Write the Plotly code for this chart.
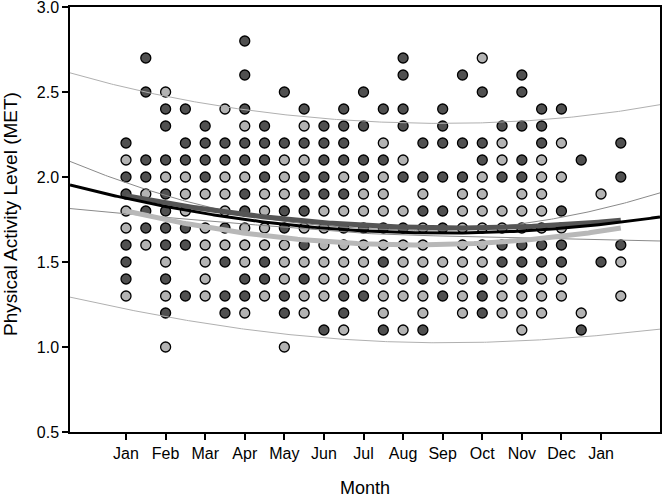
import numpy as np
import plotly.graph_objects as go

# x positions in months (0 = Jan, 12 = next Jan), half-month columns
positions = [0, 0.5, 1, 1.5, 2, 2.5, 3, 3.5, 4, 4.5, 5, 5.5, 6, 6.5, 7, 7.5, 8, 8.5,
             9, 9.5, 10, 10.5, 11, 11.5, 12, 12.5]

dark_values = [
    [2.2, 2.0, 1.9, 1.6, 1.5, 1.4],
    [2.7, 2.5, 2.1, 2.0, 1.8, 1.7],
    [2.4, 2.3, 2.1, 1.9, 1.8, 1.7, 1.6, 1.4, 1.2],
    [2.4, 2.2, 2.1, 1.7, 1.6, 1.3],
    [2.3, 2.2, 2.1, 2.0],
    [2.2, 2.1, 1.7, 1.5, 1.3, 1.2],
    [2.8, 2.6, 2.4, 2.2, 2.1, 1.9, 1.8, 1.4, 1.3],
    [2.3, 2.2, 2.1, 2.0, 1.5, 1.4],
    [2.5, 2.2, 1.8, 1.7, 1.3, 1.2],
    [2.4, 2.2, 2.0, 1.9, 1.8, 1.6, 1.4],
    [2.3, 2.2, 2.1, 2.0, 1.9, 1.1],
    [2.4, 2.3, 2.2, 2.1, 1.9, 1.7, 1.3, 1.2],
    [2.5, 2.3, 2.1, 2.0, 1.7, 1.3],
    [2.4, 2.1, 1.7, 1.5, 1.1],
    [2.7, 2.6, 2.4, 2.3, 2.0, 1.7],
    [2.2, 2.0, 1.8, 1.4, 1.1],
    [2.4, 2.3, 2.2, 2.0, 1.8, 1.7, 1.3],
    [2.6, 2.2, 2.0],
    [2.5, 2.2, 2.1, 1.4, 1.3, 1.2],
    [2.3, 2.0, 1.6, 1.5],
    [2.6, 2.5, 2.3, 2.1, 2.0, 1.6, 1.5, 1.4],
    [2.4, 2.3, 2.2, 1.6, 1.5],
    [2.4, 1.8, 1.6, 1.5],
    [2.1, 1.1],
    [1.5],
    [2.2, 2.0, 1.6],
]

light_values = [
    [2.1, 1.8, 1.7, 1.3],
    [1.9, 1.6],
    [2.5, 2.0, 1.5, 1.3, 1.0],
    [2.0, 1.9, 1.8],
    [1.9, 1.7, 1.6, 1.5, 1.4, 1.3],
    [2.4, 2.0, 1.9, 1.8, 1.6],
    [2.3, 2.0, 1.7, 1.6, 1.5, 1.2],
    [1.9, 1.8, 1.7, 1.6, 1.3],
    [2.1, 2.0, 1.9, 1.6, 1.5, 1.4, 1.0],
    [2.3, 2.1, 1.7, 1.5, 1.3, 1.2],
    [1.8, 1.7, 1.6, 1.5, 1.4, 1.3],
    [2.0, 1.8, 1.6, 1.5, 1.4, 1.1],
    [1.9, 1.8, 1.6, 1.5, 1.4],
    [2.2, 2.0, 1.9, 1.8, 1.6, 1.4, 1.3, 1.2],
    [2.1, 1.8, 1.6, 1.5, 1.4, 1.3, 1.1],
    [1.9, 1.7, 1.6, 1.5, 1.3, 1.2],
    [1.5, 1.4],
    [1.9, 1.8, 1.7, 1.6, 1.5, 1.4, 1.3, 1.2],
    [2.7, 2.0, 1.9, 1.8, 1.7, 1.6, 1.5],
    [2.2, 2.1, 1.8, 1.7, 1.4, 1.3, 1.2],
    [1.9, 1.8, 1.7, 1.3, 1.2, 1.1],
    [2.1, 2.0, 1.9, 1.8, 1.7, 1.4, 1.3, 1.2],
    [2.2, 2.0, 1.7, 1.4, 1.3],
    [1.2],
    [1.9],
    [1.5, 1.3],
]

tick_positions = [0, 1, 2, 3, 4, 5, 6, 7, 8, 9, 10, 11, 12]
tick_labels = ["Jan", "Feb", "Mar", "Apr", "May", "Jun", "Jul", "Aug", "Sep",
               "Oct", "Nov", "Dec", "Jan"]
y_ticks = [0.5, 1.0, 1.5, 2.0, 2.5, 3.0]
y_tick_labels = ["0.5", "1.0", "1.5", "2.0", "2.5", "3.0"]

# fitted quadratic curves: (vertex x, vertex y, curvature)
overall_fit = (8.02, 1.67, 0.00318)
dark_fit = (8.41, 1.70, 0.00269)
light_fit = (7.32, 1.60, 0.00373)
band_centre = 6.0
conf_s0, conf_s4 = 0.0002, 6.3e-6
pred_sd = 0.645

X_MIN, X_MAX = -1.415, 13.49
FONT = "Liberation Sans, Arial, sans-serif"


def quad(x, p):
    h, k, a = p
    return k + a * (x - h) ** 2


dx, dy, lx, ly = [], [], [], []
for pos, dv, lv in zip(positions, dark_values, light_values):
    dx += [pos] * len(dv)
    dy += dv
    lx += [pos] * len(lv)
    ly += lv

xs_full = np.linspace(X_MIN, X_MAX, 300)
xs_grp = np.linspace(0, 12.5, 200)
fit_full = quad(xs_full, overall_fit)
u = xs_full - band_centre
conf_w = np.sqrt(conf_s0 + conf_s4 * u ** 4)
pred_w = np.sqrt(pred_sd ** 2 + conf_w ** 2)

fig = go.Figure()
marker_line = dict(color="black", width=1.3)
fig.add_trace(go.Scatter(x=dx, y=dy, mode="markers",
                         marker=dict(size=10, color="#505050", line=marker_line)))
fig.add_trace(go.Scatter(x=lx, y=ly, mode="markers",
                         marker=dict(size=10, color="#b3b3b3", line=marker_line)))

for yy, col in [(fit_full + pred_w, "#b0b0b0"), (fit_full - pred_w, "#b0b0b0"),
                (fit_full + conf_w, "#8a8a8a"), (fit_full - conf_w, "#8a8a8a")]:
    fig.add_trace(go.Scatter(x=xs_full, y=yy, mode="lines",
                             line=dict(color=col, width=1)))

fig.add_trace(go.Scatter(x=xs_grp, y=quad(xs_grp, light_fit), mode="lines",
                         line=dict(color="#b8b8b8", width=5)))
fig.add_trace(go.Scatter(x=xs_grp, y=quad(xs_grp, dark_fit), mode="lines",
                         line=dict(color="#555555", width=5)))
fig.add_trace(go.Scatter(x=xs_full, y=fit_full, mode="lines",
                         line=dict(color="black", width=3)))

axis_common = dict(showline=True, linecolor="black", linewidth=1.5, mirror=True,
                   ticks="outside", ticklen=6, tickcolor="black", tickwidth=1.5,
                   showgrid=False, zeroline=False, automargin=False,
                   ticklabeloverflow="allow",
                   tickfont=dict(family=FONT, size=16, color="black"))

fig.update_layout(
    width=662, height=498,
    margin=dict(l=70, r=2, t=7, b=66),
    paper_bgcolor="white", plot_bgcolor="white",
    showlegend=False,
    xaxis=dict(range=[X_MIN, X_MAX], tickmode="array", tickvals=tick_positions,
               ticktext=tick_labels,
               title=dict(text="Month", standoff=21,
                          font=dict(family=FONT, size=18, color="black")),
               **axis_common),
    yaxis=dict(range=[0.4999, 3.0001], tickmode="array",
               tickvals=y_ticks, ticktext=y_tick_labels,
               **axis_common),
    annotations=[dict(text="Physical Activity Level (MET)", xref="paper", yref="paper",
                      x=-0.1, y=0.513, textangle=-90, showarrow=False,
                      xanchor="center", yanchor="middle",
                      font=dict(family=FONT, size=19, color="black"))],
)

fig.write_html("out.html", config={"displayModeBar": False},
               post_script="document.body.style.margin='0';document.body.style.padding='0';")
